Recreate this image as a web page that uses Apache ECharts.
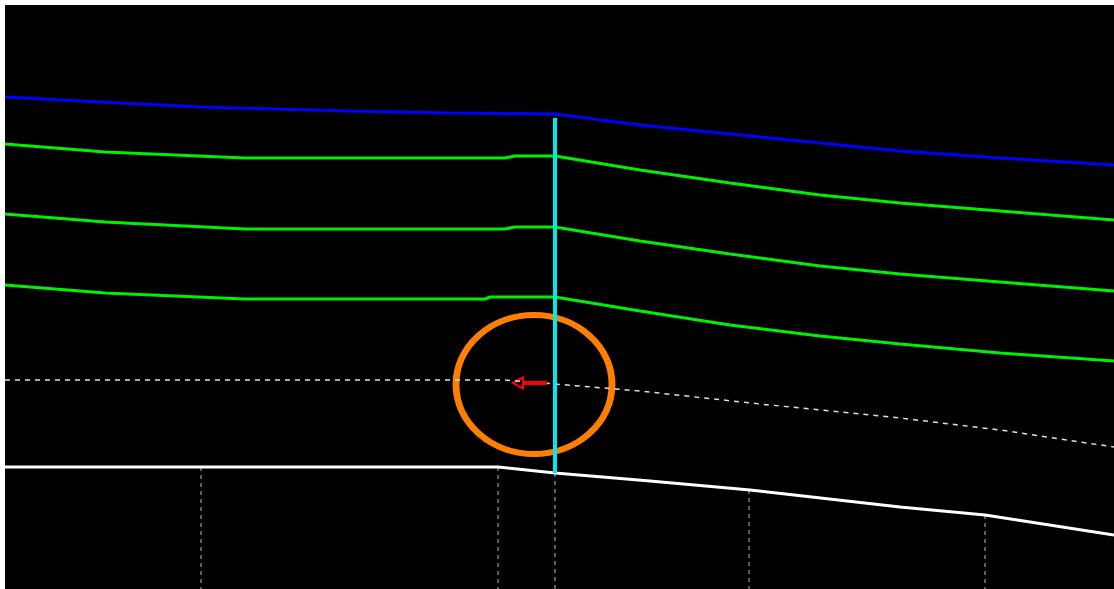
<!DOCTYPE html>
<html>
<head>
<meta charset="utf-8">
<title>profile</title>
<script src="https://cdn.jsdelivr.net/npm/echarts@6/dist/echarts.min.js"></script>
<style>
    html, body { margin: 0; padding: 0; background: #fff; }
    #profile { width: 1114px; height: 589px; }
</style>
</head>
<body>
<div id="profile"></div>
<script>
// 读图得到的数据 (x = 桩号方向, y = 高程方向, 向下为正)
var blueLine   = [[5,97],[100,102],[200,107],[350,111],[450,113],[555,114],[640,125],[730,134],[820,143],[900,151],[1000,158],[1114,165]];
var greenLine1 = [[5,144],[105,152],[245,158],[505,158],[515,156],[555,156],[640,170],[730,183],[820,195],[900,203],[1000,211],[1114,220]];
var greenLine2 = [[5,214],[105,222],[245,229],[505,229],[515,227],[555,227],[640,241],[730,254],[820,266],[900,274],[1000,282],[1114,291]];
var greenLine3 = [[5,285],[105,293],[245,299],[485,299],[490,297],[555,297],[640,311],[730,325],[820,336],[900,344],[1000,353],[1114,361]];
var dashLine   = [[5,380],[505,380],[555,384],[640,391],[760,404],[900,418],[1000,430],[1114,447]];
var groundLine = [[5,467],[498,467],[555,473],[650,481],[750,490],[900,507],[985,515],[1114,535]];

var stationX   = [201, 498, 555, 749, 985];     // 竖向虚线
var stationTop = [467, 467, 473, 490, 515];
var bottomY    = 589;

var markerX    = [555, 555];                    // 青色竖线
var markerY    = [118, 473];
var circleCenter = [534, 384.5];
var arrowShaft = [[547,383],[522,383]];
var arrowHead  = [518, 383];

initProfile();

function lineSeries(data, color, width, type){
    return {
        type: 'line',
        data: data,
        symbol: 'none',
        silent: true,
        animation: false,
        lineStyle: { color: color, width: width, type: type || 'solid' }
    };
}

function initProfile(){
    var chart = echarts.init(document.getElementById('profile'));
    var series = [];

    // 竖向虚线
    for (var i = 0; i < stationX.length; i++) {
        series.push(lineSeries([[stationX[i], stationTop[i]], [stationX[i], bottomY]], '#9a9a9a', 1.2, [4, 4]));
    }
    series.push(lineSeries(blueLine, '#0000ff', 3));
    series.push(lineSeries(greenLine1, '#00f000', 3));
    series.push(lineSeries(greenLine2, '#00f000', 3));
    series.push(lineSeries(greenLine3, '#00f000', 3));
    series.push(lineSeries(dashLine, '#e0e0e0', 1.5, [5, 5]));
    series.push(lineSeries(groundLine, '#ffffff', 3));
    series.push(lineSeries([[markerX[0], markerY[0]], [markerX[1], markerY[1]]], '#00e8f0', 4));

    // 红色箭头
    series.push(lineSeries(arrowShaft, '#ff0000', 4));
    series.push({
        type: 'scatter',
        data: [arrowHead],
        symbol: 'triangle',
        symbolSize: [11, 10],
        symbolRotate: 90,
        silent: true,
        animation: false,
        itemStyle: { color: '#000', borderColor: '#ff0000', borderWidth: 2, opacity: 1 }
    });

    // 橙色圈
    series.push({
        type: 'scatter',
        data: [circleCenter],
        symbol: 'circle',
        symbolSize: [156, 139],
        silent: true,
        animation: false,
        itemStyle: { color: 'rgba(0,0,0,0)', borderColor: '#ff8000', borderWidth: 6.5, opacity: 1 }
    });

    var option = {
        backgroundColor: '#fff',
        grid: { left: 5, top: 5, right: 0, bottom: 0, show: true, backgroundColor: '#000', borderWidth: 0 },
        xAxis: { type: 'value', min: 5, max: 1114, show: false },
        yAxis: { type: 'value', min: 5, max: 589, inverse: true, show: false },
        series: series
    };
    chart.setOption(option);
}
</script>
</body>
</html>
